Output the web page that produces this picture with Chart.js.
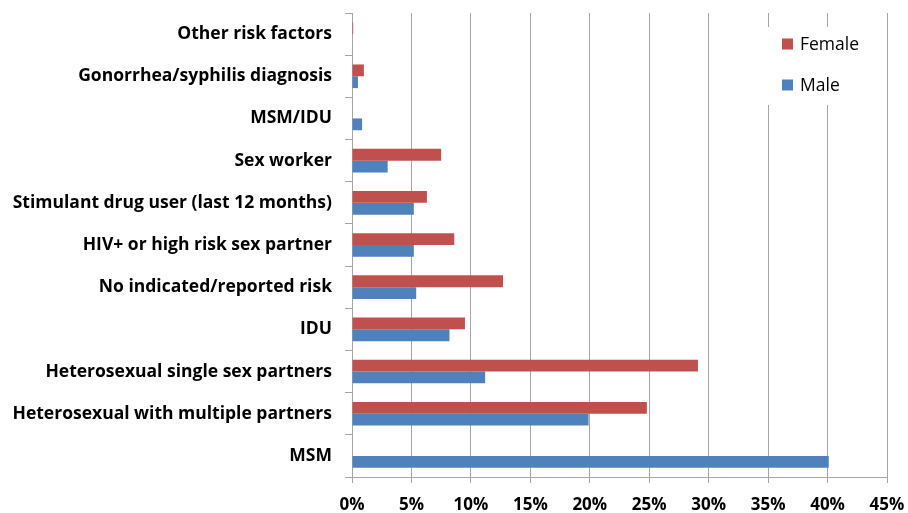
<!DOCTYPE html>
<html>
<head>
<meta charset="utf-8">
<script src="https://cdn.jsdelivr.net/npm/chart.js@4.4.0/dist/chart.umd.min.js"></script>
<style>
  html, body { margin: 0; padding: 0; background: #fff; }
  #wrap { width: 908px; height: 513px; }
</style>
</head>
<body>
<div id="wrap"><canvas id="chart" width="908" height="513"></canvas></div>
<script>
// risk factor categories, top to bottom as shown
const categories = [
  'Other risk factors',
  'Gonorrhea/syphilis diagnosis',
  'MSM/IDU',
  'Sex worker',
  'Stimulant drug user (last 12 months)',
  'HIV+ or high risk sex partner',
  'No indicated/reported risk',
  'IDU',
  'Heterosexual single sex partners',
  'Heterosexual with multiple partners',
  'MSM'
];
// percent of cases
const femaleValues = [0.1, 1.0, 0, 7.5, 6.3, 8.6, 12.7, 9.5, 29.1, 24.8, 0];
const maleValues   = [0, 0.5, 0.85, 3.0, 5.2, 5.2, 5.4, 8.2, 11.2, 19.9, 40.1];
const xTicks = [0, 5, 10, 15, 20, 25, 30, 35, 40, 45];

const FEMALE_COLOR = '#C0504D';
const MALE_COLOR = '#4F81BD';
const GRID = '#a6a6a6';
const FONT = '"Open Sans", "Liberation Sans", Arial, sans-serif';

// legend drawn inside the plot, top right, on a white box
const innerLegend = {
  id: 'innerLegend',
  afterDatasetsDraw(chart) {
    const ctx = chart.ctx;
    const area = chart.chartArea;
    const x0 = area.right - 127, y0 = 27;
    ctx.save();
    ctx.fillStyle = '#fff';
    ctx.fillRect(x0, y0, 120, 78);
    ctx.font = '17.5px ' + FONT;
    ctx.textBaseline = 'middle';
    chart.data.datasets.forEach((ds, i) => {
      const y = 44 + i * 41;
      ctx.fillStyle = ds.backgroundColor;
      ctx.fillRect(x0 + 22, y - 5.5, 11, 11);
      ctx.fillStyle = '#000';
      ctx.fillText(ds.label, x0 + 40, y + 1);
    });
    ctx.restore();
  }
};

new Chart(document.getElementById('chart'), {
  type: 'bar',
  data: {
    labels: categories,
    datasets: [
      { label: 'Female', data: femaleValues, backgroundColor: FEMALE_COLOR },
      { label: 'Male', data: maleValues, backgroundColor: MALE_COLOR }
    ]
  },
  options: {
    indexAxis: 'y',
    responsive: false,
    animation: false,
    categoryPercentage: 0.56,
    barPercentage: 1.0,
    layout: { padding: { top: 13, right: 21, left: 0, bottom: 0 } },
    plugins: {
      legend: { display: false },
      tooltip: { enabled: false }
    },
    scales: {
      x: {
        min: 0,
        max: 45,
        afterBuildTicks(axis) { axis.ticks = xTicks.map(v => ({ value: v })); },
        afterFit(axis) {
          axis.height = 36;
          axis.paddingLeft = 0;
          axis.paddingRight = 0;
        },
        grid: { color: GRID, tickLength: 6, drawTicks: true },
        border: { color: GRID },
        ticks: {
          callback: v => v + '%',
          color: '#000',
          padding: 12,
          maxRotation: 0,
          font: { family: FONT, size: 17, weight: 'bold' }
        }
      },
      y: {
        afterFit(axis) {
          axis.width = 352;
          axis.paddingTop = 0;
          axis.paddingBottom = 0;
        },
        grid: { drawOnChartArea: false, color: GRID, tickLength: 7, offset: true },
        border: { color: GRID },
        ticks: {
          color: '#000',
          padding: 13,
          font: { family: FONT, size: 17.5, weight: 'bold' }
        }
      }
    }
  },
  plugins: [innerLegend]
});
</script>
</body>
</html>
